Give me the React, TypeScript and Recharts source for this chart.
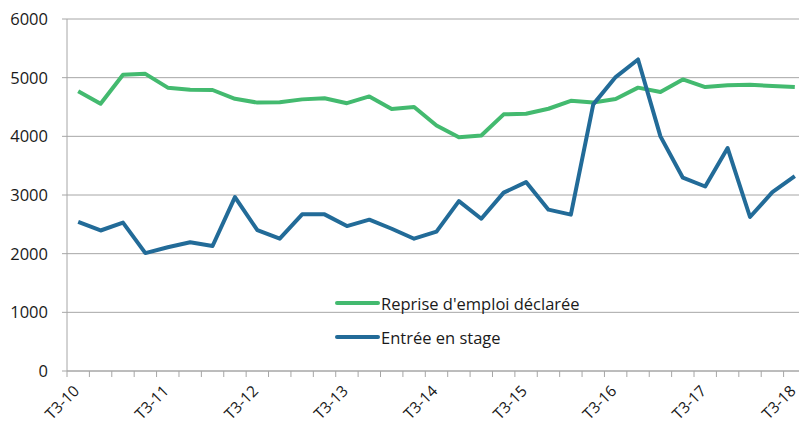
import { LineChart, Line, XAxis, YAxis, CartesianGrid } from "recharts";

const quarters = [
  "T3-10", "T4-10", "T1-11", "T2-11",
  "T3-11", "T4-11", "T1-12", "T2-12",
  "T3-12", "T4-12", "T1-13", "T2-13",
  "T3-13", "T4-13", "T1-14", "T2-14",
  "T3-14", "T4-14", "T1-15", "T2-15",
  "T3-15", "T4-15", "T1-16", "T2-16",
  "T3-16", "T4-16", "T1-17", "T2-17",
  "T3-17", "T4-17", "T1-18", "T2-18",
  "T3-18",
];

const repriseEmploi = [
  4770, 4555, 5050, 5065, 4830, 4795, 4790, 4640, 4575, 4580, 4630,
  4650, 4565, 4680, 4465, 4500, 4185, 3985, 4015, 4375, 4385, 4470,
  4605, 4575, 4635, 4830, 4755, 4970, 4840, 4870, 4880, 4858, 4840,
];

const entreeStage = [
  2540, 2395, 2530, 2010, 2110, 2195, 2130, 2965, 2400, 2255, 2670,
  2670, 2470, 2580, 2425, 2255, 2375, 2895, 2595, 3040, 3220, 2750,
  2665, 4545, 5010, 5310, 4000, 3295, 3145, 3800, 2625, 3050, 3320,
];

const yTicks = [0, 1000, 2000, 3000, 4000, 5000, 6000];

const data = quarters.map((q, i) => ({
  q,
  reprise: repriseEmploi[i],
  stage: entreeStage[i],
}));

const FONT = "'Open Sans', Lato, sans-serif";
const GREEN = "#43ba6f";
const BLUE = "#226b98";
const GRID = "#a6a6a6";
const HALF_BAND = 11.2;

const legendItems = [
  { label: "Reprise d'emploi déclarée", color: GREEN },
  { label: "Entrée en stage", color: BLUE },
];

function QuarterTick(props: any) {
  const { x, y, payload, index } = props;
  const ax = x + 2;
  const ay = y + 13;
  return (
    <g>
      <line x1={x - HALF_BAND} y1={y - 8} x2={x - HALF_BAND} y2={y - 2} stroke={GRID} />
      {index % 4 === 0 && (
        <text
          x={ax}
          y={ay}
          textAnchor="end"
          transform={`rotate(-45, ${ax}, ${ay})`}
          fontSize={15.5}
          fontFamily={FONT}
          fill="#1a1a1a"
        >
          {payload.value}
        </text>
      )}
    </g>
  );
}

function SeriesLegend() {
  return (
    <div style={{ position: "absolute", left: 335, top: 286, fontFamily: FONT, fontSize: 16.5, color: "#1a1a1a" }}>
      {legendItems.map((it) => (
        <div key={it.label} style={{ display: "flex", alignItems: "center", height: 34 }}>
          <svg width={45} height={10}>
            <line x1={2} y1={5} x2={43} y2={5} stroke={it.color} strokeWidth={4} strokeLinecap="round" />
          </svg>
          <span style={{ marginLeft: 1 }}>{it.label}</span>
        </div>
      ))}
    </div>
  );
}

export default function App() {
  return (
    <div style={{ position: "absolute", left: 0, top: 0, width: 799, height: 430, overflow: "hidden", background: "#fff" }}>
      <LineChart width={810} height={430} data={data} margin={{ top: 19, right: 4, bottom: 0, left: 0 }}>
        <CartesianGrid vertical={false} stroke={GRID} />
        <XAxis
          dataKey="q"
          interval={0}
          height={59}
          padding={{ left: HALF_BAND, right: HALF_BAND }}
          axisLine={{ stroke: GRID }}
          tickLine={false}
          tick={<QuarterTick />}
        />
        <YAxis
          width={67}
          domain={[0, 6000]}
          ticks={yTicks}
          interval={0}
          tickSize={5}
          tickMargin={14}
          axisLine={{ stroke: GRID }}
          tickLine={{ stroke: GRID }}
          tick={{ fontSize: 16.5, fontFamily: FONT, fill: "#1a1a1a" }}
        />
        <Line
          dataKey="reprise"
          name="Reprise d'emploi déclarée"
          stroke={GREEN}
          strokeWidth={4}
          strokeLinejoin="round"
          dot={false}
          isAnimationActive={false}
        />
        <Line
          dataKey="stage"
          name="Entrée en stage"
          stroke={BLUE}
          strokeWidth={4}
          strokeLinejoin="round"
          dot={false}
          isAnimationActive={false}
        />
      </LineChart>
      <SeriesLegend />
    </div>
  );
}
